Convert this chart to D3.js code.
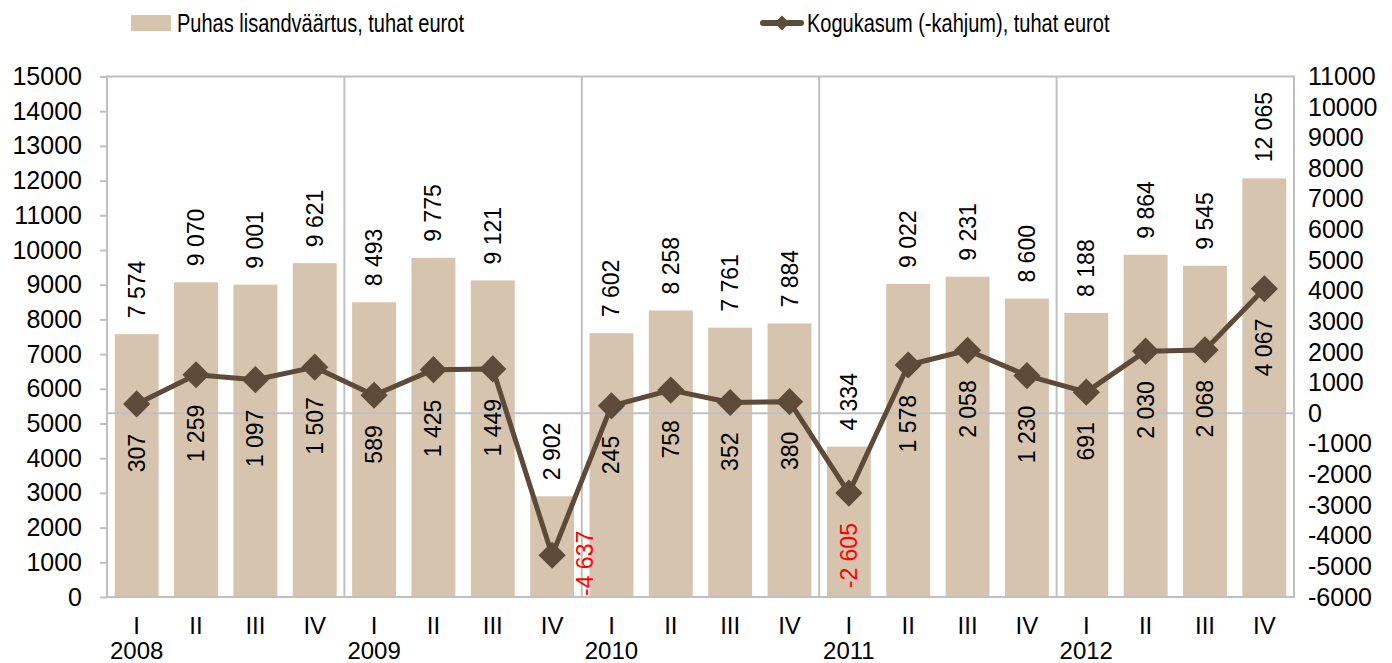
<!DOCTYPE html>
<html>
<head>
<meta charset="utf-8">
<script src="https://cdn.jsdelivr.net/npm/d3@7"></script>
<style>
  body { margin: 0; background: #fff; }
  text { font-family: "Liberation Sans", Arial, sans-serif; fill: #000; }
</style>
</head>
<body>
<svg id="chart" width="1392" height="663"></svg>
<script>
const years = ["2008", "2009", "2010", "2011", "2012"];
const quarters = ["I", "II", "III", "IV"];
const lisandvaartus = [7574, 9070, 9001, 9621, 8493, 9775, 9121, 2902, 7602, 8258,
                       7761, 7884, 4334, 9022, 9231, 8600, 8188, 9864, 9545, 12065];
const kogukasum = [307, 1259, 1097, 1507, 589, 1425, 1449, -4637, 245, 758,
                   352, 380, -2605, 1578, 2058, 1230, 691, 2030, 2068, 4067];
const leftTicks = [0, 1000, 2000, 3000, 4000, 5000, 6000, 7000, 8000, 9000, 10000,
                   11000, 12000, 13000, 14000, 15000];
const rightTicks = [-6000, -5000, -4000, -3000, -2000, -1000, 0, 1000, 2000, 3000,
                    4000, 5000, 6000, 7000, 8000, 9000, 10000, 11000];
const legendNames = ["Puhas lisandväärtus, tuhat eurot", "Kogukasum (-kahjum), tuhat eurot"];

const svg = d3.select("#chart");
const pLeft = 107, pRight = 1294, pTop = 76.5, pBottom = 597;
const barColor = "#d6c4ae";
const lineColor = "#5d4a38";
const gridColor = "#c0c0c0";

const fmt = d3.formatLocale({decimal: ",", thousands: " ", grouping: [3], currency: ["", ""], minus: "-"}).format(",d");

// kategooriad: aasta + kvartal
const kategooriad = [];
years.forEach(a => quarters.forEach(k => kategooriad.push(a + "-" + k)));

const x = d3.scaleBand().domain(kategooriad).range([pLeft, pRight])
    .paddingInner(0.26).paddingOuter(0.13);
const yL = d3.scaleLinear().domain([0, 15000]).range([pBottom, pTop]);
const yR = d3.scaleLinear().domain([-6000, 11000]).range([pBottom, pTop]);
const cx = c => x(c) + x.bandwidth() / 2;
const gap = (x.step() - x.bandwidth()) / 2;

// Tulbad
svg.append("g").selectAll("rect")
    .data(lisandvaartus)
    .join("rect")
    .attr("x", (d, i) => x(kategooriad[i]))
    .attr("y", d => yL(d))
    .attr("width", x.bandwidth())
    .attr("height", d => yL(0) - yL(d))
    .attr("fill", barColor);

// Parema telje nulljoon
svg.append("line")
    .attr("x1", pLeft).attr("x2", pRight)
    .attr("y1", yR(0)).attr("y2", yR(0))
    .attr("stroke", gridColor).attr("stroke-width", 2);

// Aastate eraldajad
years.slice(1).forEach(a => {
    const xx = x(a + "-I") - gap;
    svg.append("line")
        .attr("x1", xx).attr("x2", xx)
        .attr("y1", pTop).attr("y2", pBottom)
        .attr("stroke", gridColor).attr("stroke-width", 2);
});

// Raam
svg.append("rect")
    .attr("x", pLeft).attr("y", pTop)
    .attr("width", pRight - pLeft).attr("height", pBottom - pTop)
    .attr("fill", "none").attr("stroke", gridColor).attr("stroke-width", 2);

// Teljed
const gL = svg.append("g")
    .attr("transform", `translate(${pLeft},0)`)
    .call(d3.axisLeft(yL).tickValues(leftTicks).tickSize(7).tickPadding(18).tickFormat(d3.format("d")));
gL.select(".domain").remove();
gL.selectAll(".tick line").attr("stroke", gridColor).attr("stroke-width", 2);
gL.selectAll("text").style("font-size", "25px");

const gR = svg.append("g")
    .attr("transform", `translate(${pRight},0)`)
    .call(d3.axisRight(yR).tickValues(rightTicks).tickSize(0).tickPadding(14).tickFormat(d => d3.format("d")(d).replace("−", "-")));
gR.select(".domain").remove();
gR.selectAll("text").style("font-size", "25px");

const gB = svg.append("g")
    .attr("transform", `translate(0,${pBottom})`)
    .call(d3.axisBottom(x).tickSize(0).tickPadding(20).tickFormat(c => c.split("-")[1]));
gB.select(".domain").remove();
gB.selectAll("text").style("font-size", "24px");

years.forEach(a => {
    svg.append("text")
        .attr("x", cx(a + "-I"))
        .attr("y", 659)
        .attr("text-anchor", "middle")
        .style("font-size", "24px")
        .text(a);
});

// Joon
const joon = d3.line()
    .x((d, i) => cx(kategooriad[i]))
    .y(d => yR(d));
svg.append("path")
    .datum(kogukasum)
    .attr("d", joon)
    .attr("fill", "none")
    .attr("stroke", lineColor)
    .attr("stroke-width", 5)
    .attr("stroke-linejoin", "round");

const romb = d3.symbol(d3.symbolSquare, 370);
svg.append("g").selectAll("path")
    .data(kogukasum)
    .join("path")
    .attr("d", romb)
    .attr("transform", (d, i) => `translate(${cx(kategooriad[i])},${yR(d)}) rotate(45)`)
    .attr("fill", lineColor);

// Tulpade sildid
lisandvaartus.forEach((d, i) => {
    const px = cx(kategooriad[i]), py = yL(d) - 16;
    svg.append("text")
        .attr("x", px).attr("y", py)
        .attr("transform", `rotate(-90,${px},${py})`)
        .attr("text-anchor", "start")
        .attr("dominant-baseline", "central")
        .style("font-size", "23px")
        .text(fmt(d));
});

// Joone sildid
kogukasum.forEach((d, i) => {
    let px = cx(kategooriad[i]), py = yR(d) + 30;
    const t = svg.append("text")
        .attr("dominant-baseline", "central")
        .style("font-size", "23px")
        .style("fill", d < 0 ? "#ff0000" : "#000")
        .text(fmt(d));
    const len = t.node().getComputedTextLength();
    let anchor = "end";
    if (py + len > pBottom) {
        px += x.step() * 0.56;
        py = pBottom - 1;
        anchor = "start";
    }
    t.attr("x", px).attr("y", py)
        .attr("text-anchor", anchor)
        .attr("transform", `rotate(-90,${px},${py})`);
});

// Legend
const leg = svg.append("g");
leg.append("rect")
    .attr("x", 131).attr("y", 15).attr("width", 40).attr("height", 16)
    .attr("fill", barColor);
leg.append("text")
    .attr("transform", "translate(177,32) scale(0.77,1)")
    .style("font-size", "26px")
    .text(legendNames[0]);
leg.append("line")
    .attr("x1", 763).attr("x2", 801).attr("y1", 23).attr("y2", 23)
    .attr("stroke", lineColor).attr("stroke-width", 6).attr("stroke-linecap", "round");
leg.append("path")
    .attr("d", d3.symbol(d3.symbolSquare, 110))
    .attr("transform", "translate(782,23) rotate(45)")
    .attr("fill", lineColor);
leg.append("text")
    .attr("transform", "translate(807,32) scale(0.77,1)")
    .style("font-size", "26px")
    .text(legendNames[1]);
</script>
</body>
</html>
